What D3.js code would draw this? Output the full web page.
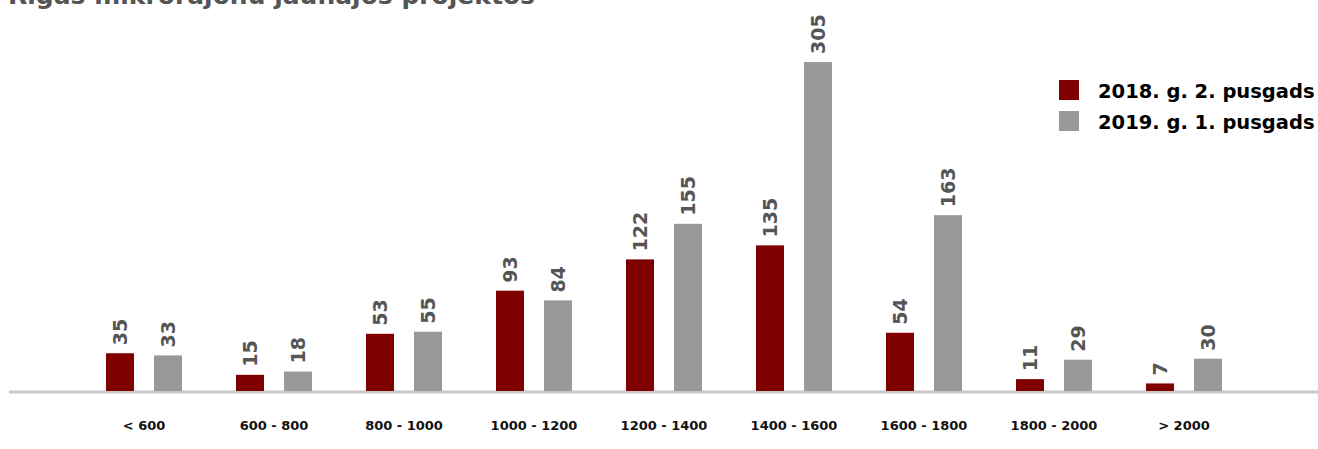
<!DOCTYPE html>
<html>
<head>
<meta charset="utf-8">
<script src="https://cdn.jsdelivr.net/npm/d3@7"></script>
<style>
  html, body { margin: 0; padding: 0; background: #fff; }
  svg { display: block; font-family: "DejaVu Sans", sans-serif; }
</style>
</head>
<body>
<svg id="chart" width="1318" height="449"></svg>
<script>
// Price ranges (EUR/m²) and number of offers per half-year
const categories = ["< 600", "600 - 800", "800 - 1000", "1000 - 1200", "1200 - 1400",
                    "1400 - 1600", "1600 - 1800", "1800 - 2000", "> 2000"];
const seriesNames = ["2018. g. 2. pusgads", "2019. g. 1. pusgads"];
const values2018H2 = [35, 15, 53, 93, 122, 135, 54, 11, 7];
const values2019H1 = [33, 18, 55, 84, 155, 305, 163, 29, 30];
const seriesColors = ["#800000", "#999999"];
const title = "Rīgas mikrorajonu jaunajos projektos";

const svg = d3.select("#chart");
const baseY = 391;

const rows = categories.map((c, i) => ({ cat: c, vals: [values2018H2[i], values2019H1[i]] }));

const x = d3.scaleBand().domain(categories).range([79, 1249]).paddingInner(0).paddingOuter(0);
const xs = d3.scaleBand().domain([0, 1]).range([-38, 38]).paddingInner(20 / 48).paddingOuter(0);
const y = d3.scaleLinear().domain([0, 305]).range([baseY, 62]);

// title (runs past the top edge)
svg.append("text")
  .attr("x", 8).attr("y", 4)
  .attr("font-size", 25).attr("font-weight", 700)
  .attr("fill", "#555")
  .text(title);

// baseline axis
const xAxis = d3.axisBottom(x).tickSize(0).tickPadding(0);
const axisG = svg.append("g").attr("transform", `translate(0,${baseY + 1})`).call(xAxis);
axisG.select(".domain").remove();
axisG.append("line")
  .attr("x1", 9).attr("x2", 1318).attr("y1", 0).attr("y2", 0)
  .attr("stroke", "#c8c8c8").attr("stroke-width", 3);
axisG.selectAll(".tick text")
  .attr("y", 29)
  .attr("font-size", 13).attr("font-weight", 700)
  .attr("font-family", "'DejaVu Sans', sans-serif")
  .attr("fill", "#111");

// bars and value labels
const groups = svg.append("g").selectAll("g.grp")
  .data(rows).join("g")
  .attr("class", "grp")
  .attr("transform", d => `translate(${x(d.cat) + x.bandwidth() / 2},0)`);

groups.selectAll("rect")
  .data(d => d.vals.map((v, k) => ({ v, k })))
  .join("rect")
  .attr("x", d => xs(d.k))
  .attr("width", xs.bandwidth())
  .attr("y", d => y(d.v))
  .attr("height", d => baseY - y(d.v))
  .attr("fill", d => seriesColors[d.k]);

groups.selectAll("text.val")
  .data(d => d.vals.map((v, k) => ({ v, k })))
  .join("text")
  .attr("class", "val")
  .attr("transform", d => `translate(${xs(d.k) + xs.bandwidth() / 2 + 7},${y(d.v) - 8}) rotate(-90)`)
  .attr("font-size", 19).attr("font-weight", 700)
  .attr("fill", "#555")
  .text(d => d.v);

// legend
const legend = svg.append("g").attr("transform", "translate(1059,80)");
seriesNames.forEach((name, k) => {
  const g = legend.append("g").attr("transform", `translate(0,${k * 31})`);
  g.append("rect").attr("width", 20).attr("height", 20).attr("fill", seriesColors[k]);
  g.append("text")
    .attr("x", 39).attr("y", 18)
    .attr("font-size", 19.5).attr("font-weight", 700)
    .attr("fill", "#000")
    .text(name);
});
</script>
</body>
</html>
